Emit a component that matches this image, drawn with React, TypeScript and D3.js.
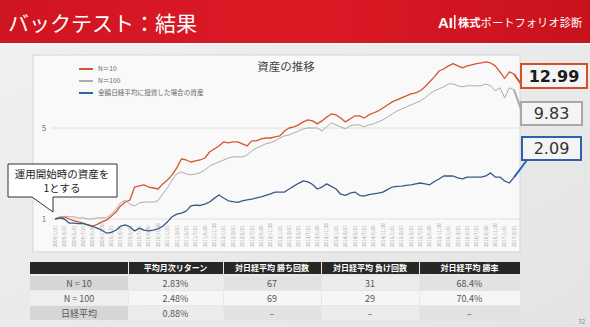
import * as d3 from "d3";

// 資産推移 (運用開始時 = 1), 月次
const n10 = [
  1.0, 1.02, 1.04, 1.0, 0.97, 0.95, 0.93, 0.9, 0.88, 0.91,
  0.95, 0.98, 1.05, 1.13, 1.26, 1.35, 1.4, 1.76, 1.8, 1.83,
  1.76, 1.73, 1.7, 1.86, 1.99, 2.18, 2.47, 2.89, 2.84, 2.74,
  2.79, 2.84, 2.94, 3.27, 3.45, 3.64, 3.91, 3.85, 3.91, 3.91,
  3.78, 3.64, 3.98, 3.98, 4.12, 4.19, 4.19, 4.27, 4.35, 4.74,
  5.0, 5.1, 5.28, 5.57, 5.77, 5.67, 5.38, 5.67, 6.08, 6.41,
  6.3, 5.97, 5.57, 5.87, 6.19, 6.19, 5.97, 6.3, 6.52, 6.76,
  7.13, 7.52, 7.93, 8.22, 8.52, 8.83, 9.15, 9.31, 9.66, 10.37,
  11.33, 12.35, 13.7, 14.2, 15.0, 15.6, 15.0, 14.5, 15.0, 15.3,
  15.6, 15.8, 16.1, 15.8, 15.0, 13.5, 12.0, 13.5, 12.99,
];
const n100 = [
  1.0, 1.04, 1.05, 1.04, 1.04, 1.02, 1.02, 1.0, 1.0, 1.02,
  1.02, 1.02, 1.09, 1.19, 1.33, 1.4, 1.3, 1.26, 1.33, 1.35,
  1.35, 1.35, 1.38, 1.56, 1.73, 1.99, 2.22, 2.3, 2.22, 2.18,
  2.22, 2.26, 2.38, 2.55, 2.65, 2.74, 2.84, 2.94, 3.0, 3.0,
  3.0, 3.1, 3.33, 3.51, 3.64, 3.78, 3.85, 3.98, 4.19, 4.35,
  4.42, 4.58, 4.74, 4.92, 5.0, 5.0, 5.0, 4.74, 5.1, 5.47,
  5.28, 5.1, 4.92, 5.19, 5.28, 5.28, 5.1, 5.28, 5.38, 5.57,
  5.77, 6.08, 6.41, 6.76, 7.0, 7.26, 7.52, 7.79, 8.07, 8.52,
  9.15, 9.66, 10.0, 10.37, 10.9, 10.9, 10.55, 10.37, 10.55, 10.55,
  10.55, 10.55, 10.9, 10.55, 9.66, 10.18, 8.52, 10.18, 9.83,
];
const nikkei = [
  1.0, 1.02, 1.0, 0.93, 0.93, 0.92, 0.92, 0.9, 0.88, 0.85,
  0.82, 0.78, 0.79, 0.82, 0.88, 0.9, 0.87, 0.81, 0.85, 0.82,
  0.81, 0.82, 0.84, 0.88, 0.95, 1.04, 1.09, 1.11, 1.15, 1.26,
  1.28, 1.27, 1.3, 1.35, 1.44, 1.53, 1.45, 1.38, 1.36, 1.34,
  1.38, 1.4, 1.42, 1.45, 1.48, 1.52, 1.56, 1.61, 1.61, 1.61,
  1.7, 1.79, 1.88, 1.96, 1.93, 1.84, 1.7, 1.76, 1.86, 1.78,
  1.7, 1.55, 1.52, 1.58, 1.61, 1.52, 1.5, 1.54, 1.56, 1.58,
  1.61, 1.68, 1.76, 1.78, 1.79, 1.81, 1.83, 1.86, 1.89, 1.86,
  1.83, 1.94, 2.03, 2.14, 2.14, 2.14, 2.07, 2.03, 2.1, 2.1,
  2.1, 2.1, 2.14, 2.26, 2.1, 2.1, 1.96, 1.89, 2.09,
];

// 2ヶ月おきの日付ラベル
const dateLabels = [
  "2009/1/31", "2009/3/31", "2009/5/31", "2009/7/31", "2009/9/30", "2009/11/30",
  "2010/1/31", "2010/3/31", "2010/5/31", "2010/7/31", "2010/9/30", "2010/11/30",
  "2011/1/31", "2011/3/31", "2011/5/31", "2011/7/31", "2011/9/30", "2011/11/30",
  "2012/1/31", "2012/3/31", "2012/5/31", "2012/7/31", "2012/9/30", "2012/11/30",
  "2013/1/31", "2013/3/31", "2013/5/31", "2013/7/31", "2013/9/30", "2013/11/30",
  "2014/1/31", "2014/3/31", "2014/5/31", "2014/7/31", "2014/9/30", "2014/11/30",
  "2015/1/31", "2015/3/31", "2015/5/31", "2015/7/31", "2015/9/30", "2015/11/30",
  "2016/1/31", "2016/3/31", "2016/5/31", "2016/7/31", "2016/9/30", "2016/11/30",
  "2017/1/31", "2017/3/31",
];
const yTicks = [1, 5];

const seriesNames = ["N＝10", "N＝100", "全額日経平均に投資した場合の資産"];
const seriesColors = ["#d4552e", "#ababab", "#3a5888"];
const boxColors = ["#d2502a", "#a8a8a8", "#2b62aa"];

// 成績表
const tableHeaders = ["", "平均月次リターン", "対日経平均 勝ち回数", "対日経平均 負け回数", "対日経平均 勝率"];
const rowNames = ["N = 10", "N = 100", "日経平均"];
const monthlyReturn = ["2.83%", "2.48%", "0.88%"];
const winCount = ["67", "69", "–"];
const loseCount = ["31", "29", "–"];
const winRate = ["68.4%", "70.4%", "–"];

const FONT = "'Noto Sans CJK JP', 'Noto Sans', sans-serif";

export default function App() {
  const W = 590;
  const H = 327;

  const x = d3.scaleLinear().domain([0, n10.length - 1]).range([55, 514]);
  const y = d3.scaleLog().domain([1, 5]).range([219, 128]);

  const line = d3
    .line<number>()
    .x((_, i) => x(i))
    .y((d) => y(d));

  const series = [n10, n100, nikkei];
  const last = n10.length - 1;

  // 最終値の吹き出し
  const callouts = [
    { v: n10[last], box: [521, 64, 66, 24], anchor: [521, 84], bold: true },
    { v: n100[last], box: [521, 102, 61, 23], anchor: [522, 112], bold: false },
    { v: nikkei[last], box: [522, 137, 59, 23], anchor: [527, 160], bold: false },
  ];

  const colEdges = [30, 128, 223, 321, 419, 520];
  const tableRows = rowNames.map((r, i) => [r, monthlyReturn[i], winCount[i], loseCount[i], winRate[i]]);
  const rowTop = [276, 291, 306];
  const rowH = 14;

  return (
    <svg
      width={W}
      height={H}
      style={{ position: "fixed", left: 0, top: 0, fontFamily: FONT }}
    >
      <defs>
        <linearGradient id="bg" x1="0" y1="0" x2="1" y2="1">
          <stop offset="0" stopColor="#f1f1f1" />
          <stop offset="1" stopColor="#e4e4e4" />
        </linearGradient>
        <linearGradient id="band" x1="0" y1="0" x2="1" y2="0">
          <stop offset="0" stopColor="#cf1520" />
          <stop offset="0.5" stopColor="#dc1a26" />
          <stop offset="1" stopColor="#c8121c" />
        </linearGradient>
      </defs>

      <rect width={W} height={H} fill="url(#bg)" />

      {/* header */}
      <rect width={W} height={43} fill="url(#band)" />
      <rect y={43} width={W} height={2} fill="#f7f7f7" />
      <text x={8} y={31} fontSize={21} fill="#fff">
        バックテスト：結果
      </text>
      <text x={438} y={28} fontSize={15} fontWeight={700} fill="#fff" fontFamily="Arial, sans-serif">
        AI
      </text>
      <rect x={454} y={15} width={1.5} height={14} fill="#fff" />
      <text x={458} y={27} fontSize={11.3} fill="#fff">
        <tspan fontWeight={700}>株式</tspan>ポートフォリオ診断
      </text>

      {/* chart frame */}
      <rect x={33} y={55} width={487} height={197} fill="#f9f9f9" stroke="#d3d3d3" />
      <text x={286} y={71} fontSize={11.5} fill="#444" textAnchor="middle">
        資産の推移
      </text>

      {yTicks.map((t) => (
        <g key={t}>
          <line x1={52} x2={520} y1={y(t)} y2={y(t)} stroke="#e0e0e0" />
          <text x={44} y={y(t) + 3} fontSize={8} fill="#777" textAnchor="middle">
            {t}
          </text>
        </g>
      ))}

      {dateLabels.map((d, i) => (
        <text
          key={d}
          transform={`translate(${x(i * 2) + 1.8},247) rotate(-90)`}
          fontSize={4.6}
          fill="#a2a2a2"
        >
          {d}
        </text>
      ))}

      {series.map((s, i) => (
        <path
          key={i}
          d={line(s) ?? ""}
          fill="none"
          stroke={seriesColors[i]}
          strokeWidth={i === 1 ? 1 : 1.3}
          strokeLinejoin="round"
        />
      ))}

      {/* legend */}
      {seriesNames.map((n, i) => (
        <g key={n} transform={`translate(79,${69 + i * 12})`}>
          <line x1={0} x2={14} stroke={i === 2 ? "#2d64ae" : seriesColors[i]} strokeWidth={2} />
          <text x={19} y={2.3} fontSize={6.6} fill="#666">
            {n}
          </text>
        </g>
      ))}

      {/* callout for the starting value */}
      <path d="M8,164 H117 V197 H53 V212 L32,197 H8 Z" fill="#fff" stroke="#333" strokeWidth={1} />
      <text x={62} y={178} fontSize={10.5} fill="#222" textAnchor="middle">
        運用開始時の資産を
      </text>
      <text x={62} y={192} fontSize={10.5} fill="#222" textAnchor="middle">
        1とする
      </text>

      {/* final values */}
      {callouts.map((c, i) => {
        const [bx, by, bw, bh] = c.box;
        return (
          <g key={i}>
            <line
              x1={x(last)}
              y1={y(c.v)}
              x2={c.anchor[0]}
              y2={c.anchor[1]}
              stroke={boxColors[i]}
              strokeWidth={2}
            />
            <rect x={bx} y={by} width={bw} height={bh} fill="#f4f4f4" stroke={boxColors[i]} strokeWidth={2} />
            <text
              x={bx + bw / 2}
              y={by + bh / 2 + 5.5}
              fontSize={16}
              fontWeight={c.bold ? 700 : 400}
              fill={c.bold ? "#1a1a1a" : "#333"}
              textAnchor="middle"
              fontFamily="'DejaVu Sans', sans-serif"
            >
              {c.v.toFixed(2)}
            </text>
          </g>
        );
      })}

      {/* table */}
      {tableHeaders.map((h, c) => (
        <g key={c}>
          <rect
            x={colEdges[c] + (c ? 1 : 0)}
            y={262}
            width={colEdges[c + 1] - colEdges[c] - (c ? 1 : 0)}
            height={12}
            fill="#272727"
          />
          <text
            x={(colEdges[c] + colEdges[c + 1]) / 2}
            y={271}
            fontSize={8}
            fontWeight={700}
            fill="#fff"
            textAnchor="middle"
          >
            {h}
          </text>
        </g>
      ))}
      {tableRows.map((row, r) =>
        row.map((cell, c) => (
          <g key={`${r}-${c}`}>
            <rect
              x={colEdges[c] + (c ? 1 : 0)}
              y={rowTop[r]}
              width={colEdges[c + 1] - colEdges[c] - (c ? 1 : 0)}
              height={rowH}
              fill={r === 1 ? (c === 0 ? "#efefef" : "#f6f6f6") : c === 0 ? "#d6d6d6" : c % 2 ? "#ececec" : "#e2e2e2"}
            />
            <text
              x={(colEdges[c] + colEdges[c + 1]) / 2}
              y={rowTop[r] + 10.5}
              fontSize={9}
              fill="#555"
              textAnchor="middle"
            >
              {cell}
            </text>
          </g>
        ))
      )}

      <text x={585} y={324} fontSize={6} fill="#888" textAnchor="end">
        32
      </text>
    </svg>
  );
}
